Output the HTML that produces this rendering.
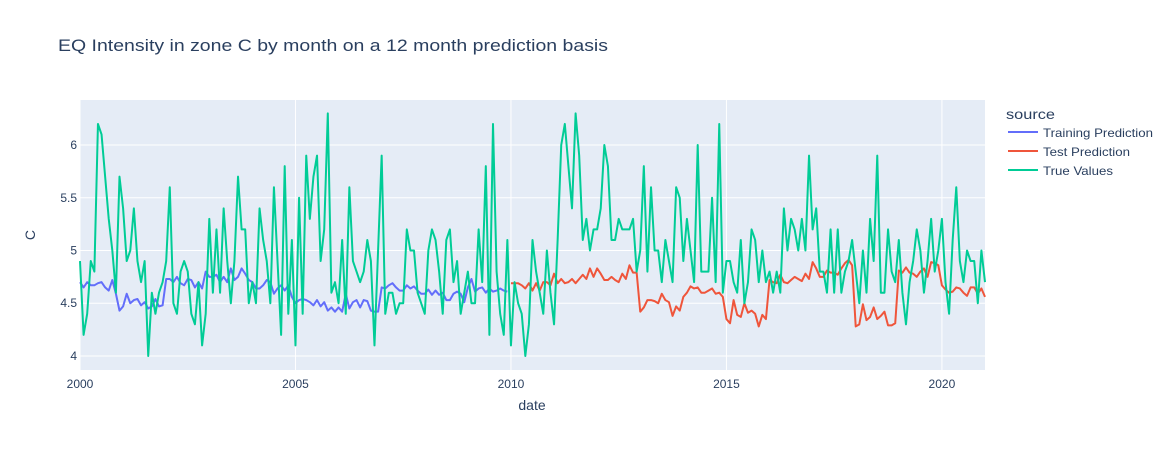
<!DOCTYPE html>
<html><head><meta charset="utf-8"><style>
body{margin:0;background:#fff;}
svg text{font-family:"Liberation Sans",Arial,sans-serif;fill:#2a3f5f;}
</style></head><body>
<svg id="chart" width="1172" height="450" xmlns="http://www.w3.org/2000/svg">
<rect x="0" y="0" width="1172" height="450" fill="#fff"/>
<rect x="80" y="100" width="905" height="270" fill="#e5ecf6"/>
<g id="grid"></g>
<g id="series"></g>
<text x="58" y="51" font-size="17" textLength="550" lengthAdjust="spacingAndGlyphs">EQ Intensity in zone C by month on a 12 month prediction basis</text>
<text x="532" y="410" font-size="14" text-anchor="middle">date</text>
<text x="35" y="235" font-size="14" text-anchor="middle" transform="rotate(-90 35 235)">C</text>
<g>
<text x="1006" y="119" font-size="14" textLength="49" lengthAdjust="spacingAndGlyphs">source</text>
<g><line x1="1008" y1="132" x2="1038" y2="132" stroke="#636efa" stroke-width="2"/><text x="1043" y="137" font-size="12" textLength="110" lengthAdjust="spacingAndGlyphs">Training Prediction</text></g>
<g><line x1="1008" y1="151" x2="1038" y2="151" stroke="#ef553b" stroke-width="2"/><text x="1043" y="156" font-size="12" textLength="87" lengthAdjust="spacingAndGlyphs">Test Prediction</text></g>
<g><line x1="1008" y1="170" x2="1038" y2="170" stroke="#00cc96" stroke-width="2"/><text x="1043" y="175" font-size="12" textLength="70" lengthAdjust="spacingAndGlyphs">True Values</text></g>
</g>
</svg>
<script>
const startYear = 2000;
const xTicks = [2000, 2005, 2010, 2015, 2020];
const yTicks = [4, 4.5, 5, 5.5, 6];
const yTickLabels = ["4", "4.5", "5", "5.5", "6"];
const trainingValues = [4.70,4.65,4.70,4.67,4.67,4.69,4.70,4.65,4.62,4.72, 4.59,4.43,4.47,4.59,4.50,4.53,4.54,4.48,4.51,4.45, 4.47,4.54,4.47,4.48,4.73,4.73,4.70,4.75,4.69,4.67, 4.73,4.72,4.65,4.70,4.64,4.80,4.75,4.75,4.77,4.70, 4.75,4.70,4.83,4.72,4.75,4.83,4.78,4.72,4.70,4.64, 4.64,4.67,4.72,4.70,4.59,4.64,4.67,4.62,4.67,4.56, 4.50,4.53,4.54,4.53,
4.51,4.48,4.53,4.47,4.51,4.43,4.46,4.42,4.46,4.42, 4.59,4.45,4.51,4.53,4.46,4.53,4.52,4.43,4.42,4.42, 4.65,4.64,4.67,4.69,4.65,4.62,4.62,4.67,4.64,4.66, 4.62,4.59,4.59,4.63,4.58,4.62,4.58,4.60,4.53,4.53, 4.59,4.61,4.59,4.51,4.65,4.73,4.61,4.64,4.65,4.60, 4.64,4.61,4.62,4.64,4.62,4.61];
const testValues = [4.69,4.69,4.69,4.67,4.64,4.69,4.62,4.69,4.62,4.70, 4.70,4.67,4.78,4.69,4.73,4.69,4.70,4.73,4.69,4.73, 4.77,4.73,4.83,4.75,4.83,4.78,4.72,4.72,4.75,4.72, 4.70,4.78,4.73,4.86,4.79,4.79,4.42,4.46,4.53,4.53, 4.52,4.50,4.59,4.53,4.51,4.38,4.47,4.43,4.56,4.60, 4.66,4.64,4.65,4.60,4.60,4.62,4.64,4.59,4.60,4.56,
4.35,4.31,4.53,4.39,4.37,4.50,4.41,4.43,4.40,4.28, 4.39,4.35,4.72,4.70,4.69,4.77,4.70,4.69,4.72,4.75, 4.73,4.71,4.78,4.73,4.89,4.83,4.75,4.75,4.81,4.79, 4.79,4.77,4.83,4.88,4.91,4.86,4.28,4.30,4.49,4.34, 4.37,4.46,4.35,4.38,4.42,4.29,4.29,4.31,4.81,4.79, 4.84,4.79,4.78,4.75,4.80,4.83,4.75,4.89,4.88,4.86, 4.67,4.63,4.60,4.61,4.65,4.64,4.60,4.57,4.65,4.65, 4.59,4.64,4.56];
const trueValues = [4.9,4.2,4.4,4.9,4.8,6.2,6.1,5.7,5.3,5.0, 4.6,5.7,5.4,4.9,5.0,5.4,4.9,4.7,4.9,4.0, 4.6,4.4,4.6,4.7,4.9,5.6,4.5,4.4,4.8,4.9, 4.8,4.4,4.3,4.7,4.1,4.4,5.3,4.6,5.2,4.6, 5.4,4.9,4.5,4.9,5.7,5.2,5.2,4.5,4.7,4.5, 5.4,5.1,4.9,4.5,5.6,4.9,4.2,5.8,4.4,5.1, 4.1,5.5,4.4,5.9,
5.3,5.7,5.9,4.9,5.2,6.3,4.6,4.7,4.5,5.1, 4.4,5.6,4.9,4.8,4.7,4.8,5.1,4.9,4.1,5.0, 5.9,4.4,4.6,4.6,4.4,4.5,4.5,5.2,5.0,5.0, 4.6,4.5,4.4,5.0,5.2,5.1,4.8,4.4,5.1,5.2, 4.7,4.9,4.4,4.6,4.8,4.5,4.5,5.2,4.7,5.8, 4.2,6.2,4.8,4.4,4.2,5.1,
4.1,4.7,4.5,4.4,4.0,4.3,5.1,4.8,4.6,4.4, 5.0,4.6,4.3,5.1,6.0,6.2,5.8,5.4,6.3,5.9, 5.1,5.3,5.0,5.2,5.2,5.4,6.0,5.8,5.1,5.1, 5.3,5.2,5.2,5.2,5.3,4.8,5.0,5.8,4.8,5.6, 5.0,5.0,4.7,5.1,4.9,4.7,5.6,5.5,4.9,5.3, 5.0,4.7,6.0,4.8,4.8,4.8,5.5,4.7,6.2,4.6,
4.9,4.9,4.7,4.6,5.1,4.5,4.7,5.2,5.1,4.7, 5.0,4.7,4.8,4.6,4.8,4.6,5.4,5.0,5.3,5.2, 5.0,5.3,5.0,5.9,5.2,5.4,4.8,4.8,4.6,5.2, 4.6,5.2,4.6,4.8,4.9,5.1,4.8,4.5,5.0,4.6, 5.3,4.9,5.9,4.6,4.6,5.2,4.8,4.7,5.1,4.6, 4.3,4.7,4.9,5.2,5.0,4.6,4.9,5.3,4.8,5.0, 5.3,4.7,4.4,5.1,5.6,4.9,4.7,5.0,4.9,4.9, 4.5,5.0,4.7];

const PX0=80, PX1=985, PY0=100, PY1=370;
const X0=2000, X1=2021, Y0=3.867, Y1=6.427;
function xs(t){return PX0+(t-X0)/(X1-X0)*(PX1-PX0);}
function ys(v){return PY1-(v-Y0)/(Y1-Y0)*(PY1-PY0);}
const NS="http://www.w3.org/2000/svg";
const grid=document.getElementById('grid');
const ser=document.getElementById('series');
xTicks.forEach(t=>{
  const l=document.createElementNS(NS,'line');
  
  
  l.setAttribute('x1',xs(t));l.setAttribute('x2',xs(t));l.setAttribute('y1',PY0);l.setAttribute('y2',PY1);
  l.setAttribute('stroke','#fff');l.setAttribute('stroke-width','1');
  grid.appendChild(l);
  const tx=document.createElementNS(NS,'text');
  
  
  tx.setAttribute('x',xs(t));tx.setAttribute('y',PY1+18);tx.setAttribute('font-size','12');tx.setAttribute('text-anchor','middle');
  tx.textContent=String(t);
  grid.appendChild(tx);
});
yTicks.forEach((v,i)=>{
  const l=document.createElementNS(NS,'line');
  
  
  l.setAttribute('x1',PX0);l.setAttribute('x2',PX1);l.setAttribute('y1',ys(v));l.setAttribute('y2',ys(v));
  l.setAttribute('stroke','#fff');l.setAttribute('stroke-width','1');
  grid.appendChild(l);
  const tx=document.createElementNS(NS,'text');
  
  
  tx.setAttribute('x',PX0-3);tx.setAttribute('y',ys(v)+4);tx.setAttribute('font-size','12');tx.setAttribute('text-anchor','end');
  tx.textContent=yTickLabels[i];
  grid.appendChild(tx);
});
function drawLine(vals,offset,color,name){
  const pts=vals.map((v,i)=>xs(startYear+(i+offset)/12).toFixed(2)+','+ys(v).toFixed(2)).join(' ');
  const p=document.createElementNS(NS,'polyline');
  
  
  p.setAttribute('points',pts);p.setAttribute('fill','none');p.setAttribute('stroke',color);
  p.setAttribute('stroke-width','2');p.setAttribute('stroke-linejoin','round');
  ser.appendChild(p);
}
drawLine(trainingValues,0,'#636efa','training-prediction-line');
drawLine(testValues,trainingValues.length,'#ef553b','test-prediction-line');
drawLine(trueValues,0,'#00cc96','true-values-line');
</script>
</body></html>
